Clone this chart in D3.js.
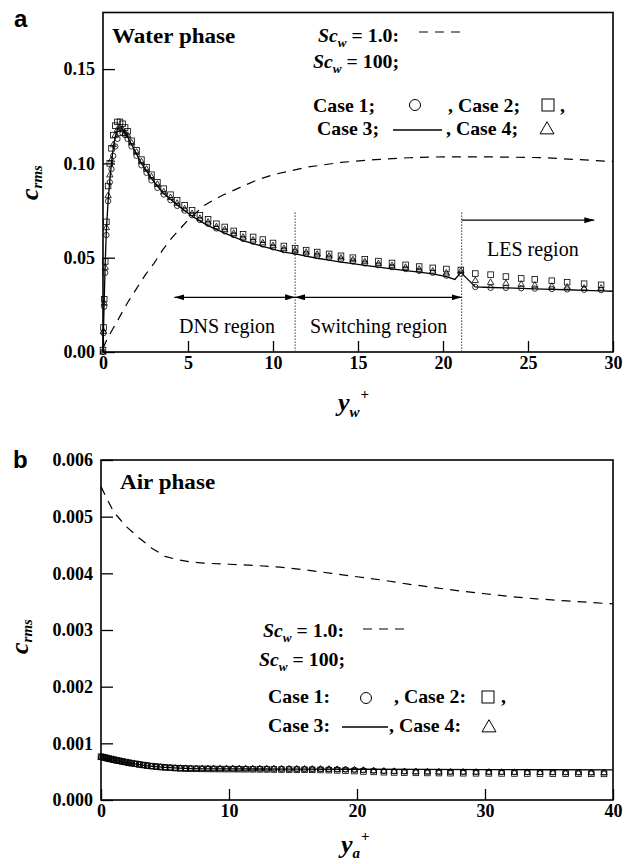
<!DOCTYPE html>
<html>
<head>
<meta charset="utf-8">
<script src="https://cdn.jsdelivr.net/npm/d3@7"></script>
<style>
body { margin: 0; background: #fff; }
svg text { font-family: "Liberation Serif", "Times New Roman", serif; font-weight: bold; fill: #000; }
svg text.plain { font-weight: normal; }
</style>
</head>
<body>
<div id="chart"></div>
<script>
// ---- panel a : water phase ----
var waterX = [0, 0.03, 0.07, 0.13, 0.2, 0.3, 0.4, 0.5, 0.6, 0.72, 0.85, 1.0, 1.15, 1.3,
    1.45, 1.68, 1.97, 2.26, 2.56, 2.85, 3.2, 3.57, 3.97, 4.36, 4.8, 5.24, 5.7, 6.18, 6.67, 7.16, 7.69, 8.24, 8.83, 9.4, 10.0, 10.64,
    11.3, 11.95, 12.6, 13.3, 14.0, 14.7, 15.4, 16.2, 17.0, 17.8, 18.6, 19.4, 20.2, 21.05,
    21.9, 22.8, 23.7, 24.6, 25.4, 26.4, 27.3, 28.3, 29.3];
var waterCase1 = [0, 0.010, 0.024, 0.042, 0.062, 0.080, 0.090, 0.097, 0.104, 0.109, 0.113, 0.116, 0.116, 0.115,
    0.113, 0.109, 0.104, 0.099, 0.095, 0.091, 0.087, 0.0835, 0.0805, 0.0775, 0.075, 0.0725, 0.070, 0.068, 0.0655, 0.064, 0.062, 0.060, 0.0585, 0.057, 0.0555, 0.054,
    0.053, 0.052, 0.051, 0.050, 0.049, 0.048, 0.047, 0.046, 0.045, 0.044, 0.043, 0.042, 0.0405, 0.0415,
    0.0345, 0.034, 0.034, 0.0338, 0.0336, 0.0334, 0.0332, 0.033, 0.0328];
var waterCase2 = [0.001, 0.013, 0.028, 0.048, 0.069, 0.088, 0.100, 0.108, 0.115, 0.120, 0.122, 0.122, 0.121, 0.119,
    0.117, 0.112, 0.107, 0.102, 0.098, 0.094, 0.090, 0.0866, 0.0834, 0.0804, 0.0778, 0.0751, 0.0725, 0.0704, 0.068, 0.0663, 0.0642, 0.0624, 0.061, 0.0596, 0.0578, 0.0562,
    0.055, 0.054, 0.053, 0.052, 0.051, 0.050, 0.0492, 0.0482, 0.0472, 0.0462, 0.0453, 0.0446, 0.044, 0.0435,
    0.0416, 0.041, 0.040, 0.039, 0.0385, 0.0378, 0.037, 0.0362, 0.0356];
var waterCase4 = [0, 0.011, 0.026, 0.045, 0.066, 0.083, 0.094, 0.102, 0.110, 0.115, 0.118, 0.119, 0.118, 0.116,
    0.115, 0.111, 0.106, 0.101, 0.097, 0.093, 0.089, 0.085, 0.082, 0.079, 0.076, 0.0735, 0.071, 0.069, 0.0665, 0.065, 0.063, 0.061, 0.0595, 0.058, 0.0565, 0.055,
    0.054, 0.053, 0.052, 0.051, 0.050, 0.049, 0.048, 0.047, 0.046, 0.045, 0.044, 0.043, 0.042, 0.043,
    0.038, 0.037, 0.0365, 0.036, 0.0355, 0.035, 0.0345, 0.034, 0.034];
var waterLineX = [0, 0.03, 0.07, 0.13, 0.2, 0.3, 0.4, 0.5, 0.6, 0.72, 0.85, 1.0, 1.15, 1.3,
    1.45, 1.68, 1.97, 2.26, 2.56, 2.85, 3.2, 3.57, 3.97, 4.36, 4.8, 5.24, 5.7, 6.18, 6.67, 7.16, 7.69, 8.24, 8.83, 9.4, 10.0, 10.64,
    11.3, 11.95, 12.6, 13.3, 14.0, 14.7, 15.4, 16.2, 17.0, 17.8, 18.6, 19.4, 20.2, 20.7, 21.05,
    21.9, 22.8, 23.7, 24.6, 25.4, 26.4, 27.3, 28.3, 29.3, 30];
var waterCase3 = [0, 0.012, 0.027, 0.047, 0.065, 0.080, 0.091, 0.100, 0.108, 0.114, 0.118, 0.119, 0.118, 0.116,
    0.114, 0.110, 0.105, 0.100, 0.096, 0.092, 0.088, 0.084, 0.081, 0.078, 0.075, 0.072, 0.0695, 0.067, 0.065, 0.063, 0.061, 0.059, 0.0575, 0.056, 0.0545, 0.053,
    0.052, 0.0508, 0.0497, 0.0487, 0.0477, 0.0468, 0.0459, 0.045, 0.0441, 0.0432, 0.0423, 0.0414, 0.040, 0.0385, 0.0422,
    0.0345, 0.0342, 0.034, 0.0337, 0.0335, 0.0332, 0.033, 0.0327, 0.0324, 0.0322];
var waterSc1X = [0, 0.25, 0.5, 1, 1.5, 2, 2.5, 3, 3.5, 4, 5, 6, 7, 8, 9, 10, 11, 12, 14, 16, 18, 20, 22, 24, 26, 28, 30];
var waterSc1 = [0.002, 0.007, 0.011, 0.019, 0.027, 0.034, 0.041, 0.047, 0.054, 0.060, 0.070, 0.078, 0.083, 0.087, 0.091, 0.094, 0.096, 0.098,
    0.1005, 0.102, 0.103, 0.1035, 0.1035, 0.1033, 0.103, 0.102, 0.101];
var waterXTicks = [0, 5, 10, 15, 20, 25, 30];
var waterYTicks = [0, 0.05, 0.10, 0.15];
var regionBounds = [11.3, 21.1];       // DNS | switching | LES
var dnsArrow = [4.2, 11.3], switchArrow = [11.3, 21.1], lesArrow = [21.1, 28.9];

// ---- panel b : air phase ----
var airX = [0, 0.15, 0.3, 0.45, 0.6, 0.8, 1.0, 1.2, 1.4, 1.65,
    1.9, 2.15, 2.4, 2.7, 3.0, 3.3, 3.6, 3.95, 4.3, 4.65,
    5.0, 5.4, 5.8, 6.2, 6.6, 7.0, 7.45, 7.9, 8.35, 8.8,
    9.3, 9.8, 10.3, 10.8, 11.3, 11.85, 12.4, 12.95, 13.5, 14.1,
    14.7, 15.3, 15.9, 16.5, 17.15, 17.8, 18.45, 19.1, 19.8, 20.5,
    21.3, 22.1, 22.9, 23.7, 24.6, 25.5, 26.4, 27.3, 28.3, 29.3,
    30.3, 31.3, 32.3, 33.3, 34.3, 35.3, 36.3, 37.3, 38.3, 39.3];
var airCase1 = [0.00076, 0.000752, 0.000744, 0.000736, 0.000728, 0.000718, 0.000708, 0.000698, 0.000689, 0.000678,
    0.000667, 0.000657, 0.000647, 0.000636, 0.000625, 0.000615, 0.000606, 0.000597, 0.000589, 0.000582,
    0.000576, 0.00057, 0.000565, 0.000561, 0.000558, 0.000556, 0.000555, 0.000554, 0.000554, 0.000553,
    0.000553, 0.000553, 0.000552, 0.000552, 0.000552, 0.000551, 0.000551, 0.00055, 0.00055, 0.000549,
    0.000548, 0.000547, 0.000546, 0.000545, 0.000544, 0.000542, 0.00054, 0.000537, 0.000532, 0.000525,
    0.000517, 0.000511, 0.000507, 0.000504, 0.000502, 0.0005, 0.000499, 0.000498, 0.000497, 0.000496,
    0.000495, 0.000494, 0.000493, 0.000492, 0.000491, 0.00049, 0.000489, 0.000488, 0.000487, 0.000486];
var airCase2 = [0.000765, 0.000757, 0.000749, 0.000741, 0.000733, 0.000723, 0.000713, 0.000703, 0.000693, 0.000682,
    0.000671, 0.00066, 0.00065, 0.000639, 0.000628, 0.000618, 0.000608, 0.000598, 0.00059, 0.000582,
    0.000575, 0.000569, 0.000563, 0.000558, 0.000555, 0.000552, 0.00055, 0.000549, 0.000548, 0.000547,
    0.000546, 0.000545, 0.000545, 0.000544, 0.000543, 0.000542, 0.000541, 0.00054, 0.000539, 0.000538,
    0.000537, 0.000536, 0.000534, 0.000532, 0.00053, 0.000527, 0.000523, 0.000518, 0.000511, 0.000503,
    0.000496, 0.00049, 0.000486, 0.000482, 0.000479, 0.000477, 0.000475, 0.000473, 0.000472, 0.000471,
    0.00047, 0.000469, 0.000468, 0.000467, 0.000466, 0.000465, 0.000464, 0.000463, 0.000462, 0.000461];
var airCase4 = [0.000758, 0.00075, 0.000742, 0.000734, 0.000726, 0.000716, 0.000706, 0.000696, 0.000687, 0.000676,
    0.000665, 0.000655, 0.000645, 0.000634, 0.000623, 0.000613, 0.000604, 0.000595, 0.000588, 0.000581,
    0.000575, 0.00057, 0.000566, 0.000563, 0.000561, 0.00056, 0.000559, 0.000558, 0.000558, 0.000557,
    0.000557, 0.000557, 0.000556, 0.000556, 0.000556, 0.000555, 0.000555, 0.000554, 0.000554, 0.000553,
    0.000552, 0.000551, 0.00055, 0.000549, 0.000548, 0.000546, 0.000544, 0.000541, 0.000536, 0.000529,
    0.000521, 0.000514, 0.000509, 0.000505, 0.000502, 0.0005, 0.000498, 0.000496, 0.000495, 0.000494,
    0.000493, 0.000492, 0.000491, 0.00049, 0.000489, 0.000488, 0.000487, 0.000486, 0.000485, 0.000484];
var airLineX = [0, 0.5, 1, 1.5, 2, 2.5, 3, 3.5, 4, 4.5, 5, 6, 7, 8, 10, 12, 15, 20, 25, 30, 35, 40];
var airCase3 = [0.000745, 0.000722, 0.0007, 0.00068, 0.00066, 0.000641, 0.000623, 0.000607, 0.000594, 0.000583, 0.000574,
    0.000562, 0.000555, 0.000551, 0.000548, 0.000547, 0.000546, 0.000543, 0.00054, 0.000537, 0.000534, 0.000531];
var airSc1X = [0, 0.5, 1, 1.5, 2, 3, 4, 5, 6, 7, 8, 10, 12, 14, 16, 18, 20, 22, 24, 26, 28, 30, 32, 34, 36, 38, 40];
var airSc1 = [0.00553, 0.0053, 0.00508, 0.00495, 0.00482, 0.00462, 0.00444, 0.0043, 0.00424, 0.0042, 0.00418, 0.00416, 0.00414,
    0.00411, 0.00406, 0.004, 0.00394, 0.00388, 0.00381, 0.00375, 0.00369, 0.00364, 0.00359, 0.00355, 0.00352, 0.00349, 0.00346];
var airXTicks = [0, 10, 20, 30, 40];
var airYTicks = [0, 0.001, 0.002, 0.003, 0.004, 0.005, 0.006];

var W = 635, H = 864;
var svg = d3.select("#chart").append("svg")
    .attr("width", W)
    .attr("height", H);

svg.append("defs").append("marker")
    .attr("id", "arrow")
    .attr("viewBox", "0 0 10 6")
    .attr("refX", 10)
    .attr("refY", 3)
    .attr("markerWidth", 10)
    .attr("markerHeight", 6)
    .attr("markerUnits", "userSpaceOnUse")
    .attr("orient", "auto-start-reverse")
    .append("path")
    .attr("d", "M0,0L10,3L0,6Z")
    .attr("fill", "#000");

// text made of italic / sub / sup pieces
function richText(parent, x, y, parts, size, sx, rot) {
    var t = parent.append("text")
        .attr("transform", "translate(" + x + "," + y + ")" + (rot ? " rotate(" + rot + ")" : "") + " scale(" + (sx || 1) + ",1)")
        .attr("font-size", size);
    parts.forEach(function(p) {
        var s = t.append("tspan").text(p.t);
        if (p.i) s.attr("font-style", "italic");
        if (p.s) s.attr("font-size", p.s);
        if (p.dy) s.attr("dy", p.dy);
        if (p.dx) s.attr("dx", p.dx);
    });
    return t;
}

function symbol(parent, kind, cx, cy, size) {
    if (kind == "circle") {
        return parent.append("circle").attr("cx", cx).attr("cy", cy).attr("r", size / 2);
    }
    if (kind == "square") {
        return parent.append("rect").attr("x", cx - size / 2).attr("y", cy - size / 2).attr("width", size).attr("height", size);
    }
    var h = size * 0.866;
    return parent.append("path")
        .attr("d", "M" + cx + "," + (cy - h * 0.6) + "L" + (cx + size / 2) + "," + (cy + h * 0.4) + "L" + (cx - size / 2) + "," + (cy + h * 0.4) + "Z");
}

function drawPanel(cfg) {
    var g = svg.append("g");
    var x = d3.scaleLinear().domain(cfg.xDomain).range([cfg.left, cfg.right]),
        y = d3.scaleLinear().domain(cfg.yDomain).range([cfg.bottom, cfg.top]);

    var xAxis = d3.axisBottom(x).tickValues(cfg.xTicks).tickSize(-11).tickSizeOuter(0).tickPadding(4)
        .tickFormat(d3.format("d"));
    var yAxis = d3.axisLeft(y).tickValues(cfg.yTicks).tickSize(-12).tickSizeOuter(0).tickPadding(8)
        .tickFormat(d3.format(cfg.yFormat));
    g.append("g").attr("transform", "translate(0," + cfg.bottom + ")").call(xAxis);
    g.append("g").attr("transform", "translate(" + cfg.left + ",0)").call(yAxis);
    g.selectAll(".domain").remove();
    g.selectAll(".tick line").attr("stroke", "#000").attr("stroke-width", 1.3);
    g.selectAll(".tick text").attr("font-size", 18);

    g.append("rect")
        .attr("x", cfg.left).attr("y", cfg.top)
        .attr("width", cfg.right - cfg.left).attr("height", cfg.bottom - cfg.top)
        .attr("fill", "none").attr("stroke", "#000").attr("stroke-width", 1.6);

    var line = d3.line()
        .x(function(d) { return x(d[0]); })
        .y(function(d) { return y(d[1]); });

    g.append("path")
        .datum(d3.zip(cfg.sc1X, cfg.sc1))
        .attr("d", line)
        .attr("fill", "none").attr("stroke", "#000").attr("stroke-width", 1.2)
        .attr("stroke-dasharray", "9,7");

    g.append("path")
        .datum(d3.zip(cfg.lineX, cfg.case3))
        .attr("d", line)
        .attr("fill", "none").attr("stroke", "#000").attr("stroke-width", 1.3);

    var marks = g.append("g").attr("fill", "none").attr("stroke", "#000").attr("stroke-width", 0.8);
    [["circle", cfg.case1, 5.4], ["square", cfg.case2, 5.6], ["triangle", cfg.case4, 6.4]].forEach(function(s) {
        cfg.markX.forEach(function(v, i) {
            symbol(marks, s[0], x(v), y(s[1][i]), s[2]);
        });
    });

    return {g: g, x: x, y: y};
}

// ---------- panel a ----------
var pa = drawPanel({
    xDomain: [0, 30], yDomain: [0, 0.18],
    left: 103, right: 613, top: 12.5, bottom: 352,
    xTicks: waterXTicks, yTicks: waterYTicks, yFormat: ".2f",
    sc1X: waterSc1X, sc1: waterSc1,
    lineX: waterLineX, case3: waterCase3,
    markX: waterX, case1: waterCase1, case2: waterCase2, case4: waterCase4
});

// region separators and arrows
regionBounds.forEach(function(b) {
    pa.g.append("line")
        .attr("x1", pa.x(b)).attr("x2", pa.x(b))
        .attr("y1", pa.y(0.074)).attr("y2", pa.y(0))
        .attr("stroke", "#333").attr("stroke-width", 1).attr("stroke-dasharray", "1.5,1.5");
});
[[dnsArrow, 0.029, true], [switchArrow, 0.029, true], [lesArrow, 0.0699, false]].forEach(function(a) {
    pa.g.append("line")
        .attr("x1", pa.x(a[0][0])).attr("x2", pa.x(a[0][1]))
        .attr("y1", pa.y(a[1])).attr("y2", pa.y(a[1]))
        .attr("stroke", "#000").attr("stroke-width", 1.2)
        .attr("marker-start", a[2] ? "url(#arrow)" : null)
        .attr("marker-end", "url(#arrow)");
});
pa.g.append("text").attr("class", "plain").attr("x", 179).attr("y", 333).attr("font-size", 20).text("DNS region");
pa.g.append("text").attr("class", "plain").attr("x", 310).attr("y", 333).attr("font-size", 20).text("Switching region");
pa.g.append("text").attr("class", "plain").attr("x", 487).attr("y", 256).attr("font-size", 20).text("LES region");

richText(pa.g, 112, 43, [{t: "Water phase"}], 21, 1.1);

// legend a
var la = pa.g.append("g");
richText(la, 318, 42, [{t: "Sc", i: 1}, {t: "w", i: 1, s: 12, dy: 5}, {t: " = 1.0:", dy: -5}], 18, 1.1);
la.append("line").attr("x1", 419).attr("x2", 466).attr("y1", 32).attr("y2", 32)
    .attr("stroke", "#000").attr("stroke-width", 1.2).attr("stroke-dasharray", "9,7");
richText(la, 313, 68, [{t: "Sc", i: 1}, {t: "w", i: 1, s: 12, dy: 5}, {t: " = 100;", dy: -5}], 18, 1.1);
richText(la, 313, 112, [{t: "Case 1;"}], 18, 1.1);
richText(la, 448, 112, [{t: ", Case 2;"}], 18, 1.1);
richText(la, 560, 112, [{t: ","}], 18, 1.1);
richText(la, 317, 135, [{t: "Case 3;"}], 18, 1.1);
richText(la, 446, 135, [{t: ", Case 4;"}], 18, 1.1);
var lsa = la.append("g").attr("fill", "none").attr("stroke", "#000").attr("stroke-width", 1);
symbol(lsa, "circle", 415, 105, 11);
symbol(lsa, "square", 548, 105, 12);
symbol(lsa, "triangle", 547, 129, 14);
la.append("line").attr("x1", 393).attr("x2", 442).attr("y1", 130).attr("y2", 130)
    .attr("stroke", "#000").attr("stroke-width", 1.3);

// axis labels a
richText(svg, 38, 200, [{t: "c", i: 1}, {t: "rms", i: 1, s: 15, dy: 4}], 26, 1, -90);
richText(svg, 338, 411, [{t: "y", i: 1}, {t: "w", i: 1, s: 15, dy: 6}, {t: "+", s: 15, dy: -18, dx: 1}], 26);
svg.append("text").attr("x", 14).attr("y", 27).attr("font-size", 24)
    .style("font-family", "'Liberation Sans', Arial, sans-serif").text("a");

// ---------- panel b ----------
var pb = drawPanel({
    xDomain: [0, 40], yDomain: [0, 0.006],
    left: 101, right: 613, top: 460, bottom: 800,
    xTicks: airXTicks, yTicks: airYTicks, yFormat: ".3f",
    sc1X: airSc1X, sc1: airSc1,
    lineX: airLineX, case3: airCase3,
    markX: airX, case1: airCase1, case2: airCase2, case4: airCase4
});

richText(pb.g, 120, 489, [{t: "Air phase"}], 21, 1.1);

var lb = pb.g.append("g");
richText(lb, 263, 637, [{t: "Sc", i: 1}, {t: "w", i: 1, s: 12, dy: 5}, {t: " = 1.0:", dy: -5}], 18, 1.1);
lb.append("line").attr("x1", 363).attr("x2", 411).attr("y1", 629).attr("y2", 629)
    .attr("stroke", "#000").attr("stroke-width", 1.2).attr("stroke-dasharray", "9,7");
richText(lb, 259, 666, [{t: "Sc", i: 1}, {t: "w", i: 1, s: 12, dy: 5}, {t: " = 100;", dy: -5}], 18, 1.1);
richText(lb, 268, 703, [{t: "Case 1:"}], 18, 1.1);
richText(lb, 394, 703, [{t: ", Case 2:"}], 18, 1.1);
richText(lb, 501, 703, [{t: ","}], 18, 1.1);
richText(lb, 268, 732, [{t: "Case 3:"}], 18, 1.1);
richText(lb, 389, 732, [{t: ", Case 4:"}], 18, 1.1);
var lsb = lb.append("g").attr("fill", "none").attr("stroke", "#000").attr("stroke-width", 1);
symbol(lsb, "circle", 366, 698, 11);
symbol(lsb, "square", 488, 697, 12);
symbol(lsb, "triangle", 489, 727, 14);
lb.append("line").attr("x1", 342).attr("x2", 388).attr("y1", 727).attr("y2", 727)
    .attr("stroke", "#000").attr("stroke-width", 1.3);

richText(svg, 28, 654, [{t: "c", i: 1}, {t: "rms", i: 1, s: 15, dy: 4}], 26, 1, -90);
richText(svg, 341, 853, [{t: "y", i: 1}, {t: "a", i: 1, s: 15, dy: 5}, {t: "+", s: 15, dy: -17, dx: 1}], 26);
svg.append("text").attr("x", 13).attr("y", 468).attr("font-size", 24)
    .style("font-family", "'Liberation Sans', Arial, sans-serif").text("b");
</script>
</body>
</html>
